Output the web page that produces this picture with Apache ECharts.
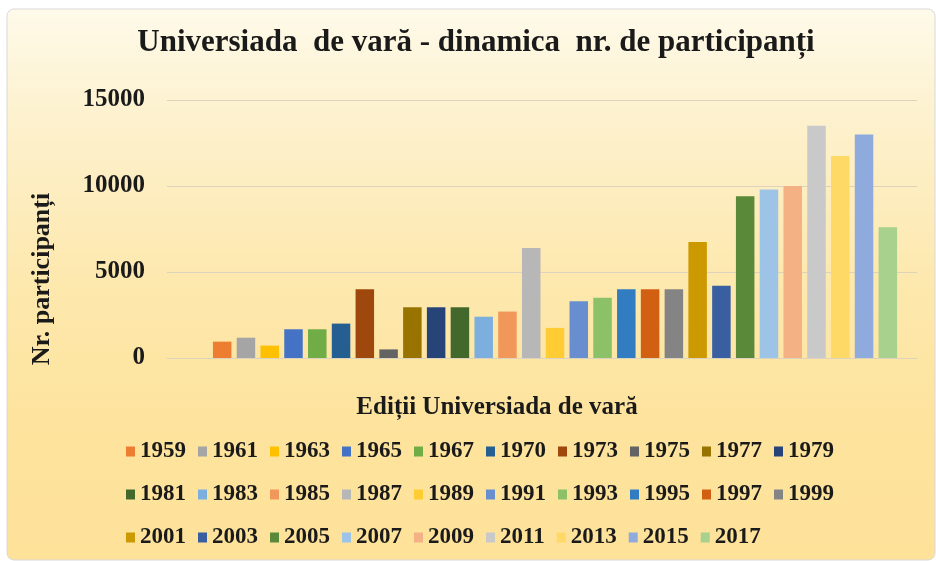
<!DOCTYPE html>
<html>
<head>
<meta charset="utf-8">
<script src="https://cdn.jsdelivr.net/npm/echarts@6/dist/echarts.min.js"></script>
<style>
  html, body { margin: 0; padding: 0; background: #fff; }
  #chart { width: 936px; height: 561px; }
</style>
</head>
<body>
<div id="chart"></div>
<script>
// editions of the summer Universiade
var years = ["1959", "1961", "1963", "1965", "1967", "1970", "1973", "1975", "1977", "1979",
  "1981", "1983", "1985", "1987", "1989", "1991", "1993", "1995", "1997", "1999",
  "2001", "2003", "2005", "2007", "2009", "2011", "2013", "2015", "2017"];
// number of participants
var participants = [950, 1180, 720, 1670, 1670, 2000, 4000, 500, 2950, 2950,
  2950, 2400, 2700, 6400, 1750, 3300, 3500, 4000, 4000, 4000,
  6750, 4200, 9400, 9800, 10000, 13500, 11750, 13000, 7600];
var colors = ["#ED7D31", "#A5A5A5", "#FFC000", "#4472C4", "#70AD47", "#255E91", "#9E480E", "#636363", "#997300", "#264478",
  "#43682B", "#7CAFDD", "#F1975A", "#B7B7B7", "#FFCD33", "#698ED0", "#8CC168", "#327DC2", "#D26012", "#848484",
  "#CC9A00", "#3A5FA0", "#5A8A39", "#9DC3E6", "#F4B183", "#C9C9C9", "#FFD966", "#8FAADC", "#A9D18E"];
var yTicks = { min: 0, max: 15000, interval: 5000 };

var serif = '"Liberation Serif", "Times New Roman", serif';
var chart = echarts.init(document.getElementById("chart"));

var series = years.map(function (y, i) {
  return {
    name: y,
    type: "bar",
    xAxisIndex: 1,
    yAxisIndex: 1,
    barWidth: 18.5,
    barGap: "28.5%",
    itemStyle: { color: colors[i] },
    data: [participants[i]]
  };
});

function legendRow(names, top) {
  return {
    data: names,
    left: 121,
    top: top,
    orient: "horizontal",
    icon: "rect",
    itemWidth: 9,
    itemHeight: 10,
    itemGap: 12,
    selectedMode: false,
    textStyle: { fontFamily: serif, fontWeight: "bold", fontSize: 23, color: "#1a1a1a" }
  };
}

var option = {
  animation: false,
  graphic: [
    {
      type: "rect", z: -10, silent: true,
      shape: { x: 7, y: 9, width: 928, height: 551, r: 7 },
      style: {
        stroke: "#d8d8d8", lineWidth: 1,
        fill: {
          type: "linear", x: 0, y: 0, x2: 0, y2: 1,
          colorStops: [
            { offset: 0, color: "#fefaea" },
            { offset: 0.18, color: "#fdf2d0" },
            { offset: 0.5, color: "#fde8ad" },
            { offset: 0.75, color: "#fde39d" },
            { offset: 1, color: "#fee29a" }
          ]
        }
      }
    },
    {
      type: "text", x: 476, y: 43,
      style: {
        text: "Universiada  de vară - dinamica  nr. de participanți",
        font: "bold 31px " + serif, fill: "#1a1a1a",
        textAlign: "center", align: "center", textVerticalAlign: "middle", verticalAlign: "middle"
      }
    },
    {
      type: "text", x: 497, y: 408,
      style: {
        text: "Ediții Universiada de vară",
        font: "bold 25px " + serif, fill: "#1a1a1a",
        textAlign: "center", align: "center", textVerticalAlign: "middle", verticalAlign: "middle"
      }
    },
    {
      type: "text", x: 42, y: 279, rotation: Math.PI / 2,
      style: {
        text: "Nr. participanți",
        font: "bold 26px " + serif, fill: "#1a1a1a",
        textAlign: "center", align: "center", textVerticalAlign: "middle", verticalAlign: "middle"
      }
    }
  ],
  legend: [
    legendRow(years.slice(0, 10), 435),
    legendRow(years.slice(10, 20), 478),
    legendRow(years.slice(20), 521)
  ],
  // grid 0 carries the gridlines and tick labels, grid 1 the bars
  grid: [
    { left: 167, right: 19, top: 100, bottom: 203 },
    { left: 190, right: 16, top: 100, bottom: 203 }
  ],
  xAxis: [
    {
      gridIndex: 0, type: "category", data: [""],
      axisLine: { show: true, lineStyle: { color: "#ddd3bd" } },
      axisTick: { show: false }, axisLabel: { show: false }
    },
    { gridIndex: 1, type: "category", data: ["Ediții"], show: false }
  ],
  yAxis: [
    {
      gridIndex: 0, type: "value", min: yTicks.min, max: yTicks.max, interval: yTicks.interval,
      axisLine: { show: false }, axisTick: { show: false },
      splitLine: { lineStyle: { color: "#ddd3bd", width: 1 } },
      axisLabel: {
        margin: 22, fontFamily: serif, fontWeight: "bold", fontSize: 25, color: "#1a1a1a",
        formatter: function (v) { return String(v); }
      }
    },
    {
      gridIndex: 1, type: "value", min: yTicks.min, max: yTicks.max, interval: yTicks.interval,
      show: false, splitLine: { show: false }
    }
  ],
  series: series
};

chart.setOption(option);
</script>
</body>
</html>
